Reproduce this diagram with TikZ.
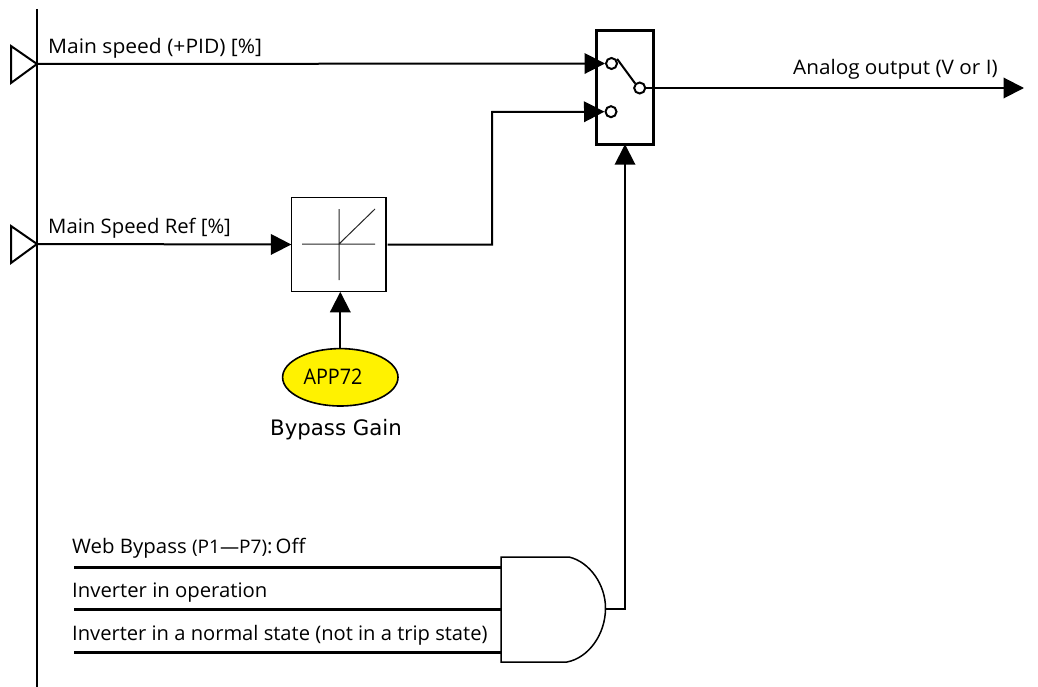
\documentclass[tikz,border=0pt]{standalone}
\usepackage{fontspec}
\setmainfont{Open Sans}
\newfontfamily\gainfont{DejaVu Sans}
\usetikzlibrary{arrows.meta,calc,shapes.geometric}
\tikzset{
  wire/.style={line width=2pt,draw=black},
  ar/.style={wire,-{Triangle[length=20.5pt,width=20.5pt]}},
  bar/.style={line width=3pt,draw=black},
  lab/.style={anchor=base west,inner sep=0pt,font=\fontsize{20}{24}\selectfont},
  term/.style={circle,draw=black,line width=2pt,fill=white,minimum size=11pt,inner sep=0pt},
  inpt/.style={line width=2pt,draw=black,line join=miter}
}
\begin{document}
\begin{tikzpicture}[x=1pt,y=-1pt]
\useasboundingbox (0,0) rectangle (1038,687);
% bus
\coordinate (bustop) at (37,9);
\coordinate (busbot) at (37,687);
\draw[line width=2pt] (bustop) -- (busbot);
\coordinate (i1) at (37,64);
\coordinate (i2) at (37,244);
\draw[inpt] (i1) -- (11,46) -- (11,83) -- cycle;
\draw[inpt] (i2) -- (11,226) -- (11,263) -- cycle;
% switch
\node[draw=black,line width=3pt,minimum width=56.5pt,minimum height=113.5pt,inner sep=0pt,outer sep=0pt] (sw) at (625,87.5) {};
\node[term] (t1) at (611.5,63.5) {};
\node[term] (t2) at (611,111.7) {};
\node[term] (t3) at (639.7,88) {};
\draw[line width=2pt] (t1.north east) ++(1,0) -- (t3.north west);
% gain
\node[draw=black,line width=1.2pt,minimum size=94.7pt,inner sep=0pt,outer sep=0pt] (gain) at (338.7,244.5) {};
\coordinate (gl) at (302,244);
\coordinate (gr) at (375,244);
\coordinate (gt) at (339,209);
\coordinate (gb) at (339,280);
\coordinate (gc) at (339,244);
\coordinate (gd) at (375,209);
\draw[line width=1pt,draw=black!85] (gl) -- (gr) (gt) -- (gb) (gc) -- (gd);
% ellipse
\node[ellipse,draw=black,line width=1.6pt,fill=yellow,minimum width=115.4pt,minimum height=57.4pt,inner sep=0pt,outer sep=0pt] (app) at (340.3,377.3) {};
\node[inner sep=0pt,font=\fontsize{21.5}{24}\selectfont,xscale=.92] (apptxt) at (333,377) {APP72};
\node[anchor=base,inner sep=0pt,font=\gainfont\fontsize{21.3}{24}\selectfont] (gainlab) at (336,435) {Bypass Gain};
% AND gate
\draw[line width=1.5pt,fill=white] (501,557) -- (569,557) .. controls (590,562) and (605.5,585) .. (605.5,608) .. controls (605.5,635) and (588,658) .. (567,662) -- (501,662) -- cycle;
\coordinate (a1) at (501,567);
\coordinate (a2) at (501,609);
\coordinate (a3) at (501,652.5);
\coordinate (aout) at (605.5,608.5);
\coordinate (s1) at (74,567);
\coordinate (s2) at (74,609);
\coordinate (s3) at (74,652.5);
\draw[bar] (s1) -- (a1);
\draw[bar] (s2) -- (a2);
\draw[bar] (s3) -- (a3);
% connectors
\draw[ar] (i1) -- (t1.west);
\draw[ar] (i2) -- (gain.west);
\draw[ar] (gain.east) ++(1.5,0) -| (492,112) -- (t2.west);
\draw[ar] (t3.east) -- (1024,88);
\draw[ar] (app.north) -- (app.north |- gain.south);
\draw[ar] (aout) -| (sw.south);
% labels
\node[lab,xscale=1.05] (l1) at (48,54) {Main speed (+PID) [\%]};
\node[lab,xscale=1.015] (l2) at (48,233.5) {Main Speed Ref [\%]};
\node[lab,xscale=1.035] (l3) at (793,74.5) {Analog output (V or I)};
\node[lab,xscale=1.02] (l4) at (72,553.5) {Web Bypass {\fontsize{18.7}{22}\selectfont(P1---P7)}:\hspace{3pt}Off};
\node[lab,xscale=1.015] (l5) at (72,597.5) {Inverter in operation};
\node[lab,xscale=1.007] (l6) at (72,640) {Inverter in a normal state (not in a trip state)};
\end{tikzpicture}
\end{document}
